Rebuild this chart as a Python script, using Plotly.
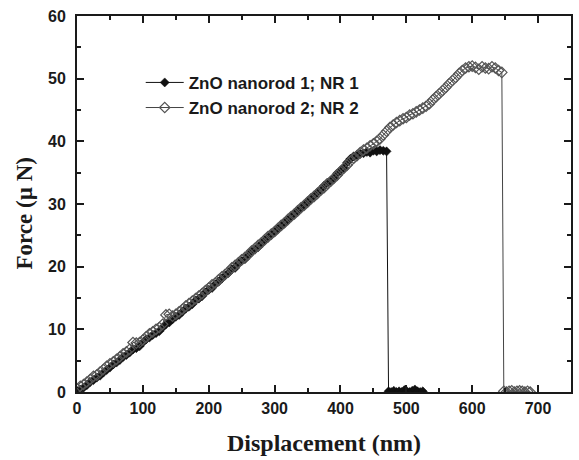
import plotly.graph_objects as go

# ---------------- data ----------------
nr1_disp = [0, 5, 10, 15, 20, 25, 30, 35, 40, 45, 50, 55, 60, 65, 70, 75, 80, 85, 90, 95,
            100, 105, 110, 115, 120, 125, 130, 135, 140, 145, 150, 155, 160, 165, 170, 175,
            180, 185, 190, 195, 200, 205, 210, 215, 220, 225, 230, 235, 240, 245, 250, 255,
            260, 265, 270, 275, 280, 285, 290, 295, 300, 305, 310, 315, 320, 325, 330, 335,
            340, 345, 350, 355, 360, 365, 370, 375, 380, 385, 390, 395, 400, 405, 410, 415,
            420, 425, 430, 435, 440, 445, 450, 455, 460, 465, 470,
            473, 477, 481, 485, 489, 493, 497, 501, 505, 509, 513, 517, 521, 525]
nr1_force = [0.2, 0.4, 0.7, 1.1, 1.6, 1.9, 2.3, 2.6, 3.1, 3.5, 3.9, 4.4, 4.7, 5.1, 5.6, 5.9,
             6.3, 6.8, 7.0, 7.3, 7.9, 8.4, 8.7, 9.1, 9.4, 9.7, 10.3, 10.8, 11.1, 11.6, 12.0,
             12.3, 12.8, 13.3, 13.6, 14.0, 14.6, 14.9, 15.3, 15.9, 16.3, 16.6, 17.2, 17.6,
             18.1, 18.6, 19.0, 19.6, 19.8, 20.5, 20.9, 21.2, 21.8, 22.4, 22.7, 23.1, 23.7,
             24.2, 24.6, 25.1, 25.5, 26.1, 26.4, 27.0, 27.5, 27.9, 28.5, 28.9, 29.3, 29.9,
             30.3, 30.9, 31.4, 31.8, 32.3, 32.9, 33.4, 33.7, 34.2, 34.9, 35.3, 35.8, 36.6,
             37.2, 37.6, 37.8, 38.0, 38.1, 38.3, 38.2, 38.5, 38.4, 38.6, 38.5, 38.4,
             0.1, 0.0, 0.2, 0.0, 0.1, 0.0, 0.3, 0.1, 0.0, 0.2, 0.4, 0.1, 0.0, 0.1]

nr2_disp = [0, 5, 10, 15, 20, 25, 30, 35, 40, 45, 50, 55, 60, 65, 70, 75, 80, 85, 90, 95,
            100, 105, 110, 115, 120, 125, 130, 135, 140, 145, 150, 155, 160, 165, 170, 175,
            180, 185, 190, 195, 200, 205, 210, 215, 220, 225, 230, 235, 240, 245, 250, 255,
            260, 265, 270, 275, 280, 285, 290, 295, 300, 305, 310, 315, 320, 325, 330, 335,
            340, 345, 350, 355, 360, 365, 370, 375, 380, 385, 390, 395, 400, 405, 410, 415,
            420, 425, 430, 435, 440, 445, 450, 455, 460, 465, 470, 475, 480, 485, 490, 495,
            500, 505, 510, 515, 520, 525, 530, 535, 540, 545, 550, 555, 560, 565, 570, 575,
            580, 585, 590, 595, 600, 605, 610, 615, 620, 625, 630, 635, 640, 645,
            648, 652, 656, 660, 664, 668, 672, 676, 680, 684, 688]
nr2_force = [0.5, 0.9, 1.2, 1.6, 2.0, 2.5, 2.7, 3.2, 3.6, 4.1, 4.5, 4.8, 5.2, 5.6, 6.1, 6.4,
             6.8, 7.9, 7.8, 7.9, 8.3, 8.8, 9.3, 9.6, 10.0, 10.3, 10.8, 12.3, 12.4, 12.1, 12.4,
             12.8, 13.2, 13.7, 14.1, 14.5, 14.9, 15.3, 15.7, 16.2, 16.6, 17.1, 17.4, 17.9,
             18.4, 18.8, 19.2, 19.8, 20.2, 20.6, 21.1, 21.5, 21.9, 22.5, 22.9, 23.4, 23.8,
             24.3, 24.8, 25.2, 25.6, 26.1, 26.6, 27.0, 27.5, 28.0, 28.4, 28.9, 29.4, 29.8,
             30.3, 30.8, 31.2, 31.7, 32.2, 32.6, 33.2, 33.6, 34.1, 34.6, 35.2, 35.7, 36.2,
             36.8, 37.3, 37.7, 38.2, 38.6, 38.9, 39.3, 39.6, 40.0, 40.4, 41.0, 41.6, 42.2,
             42.6, 43.0, 43.3, 43.6, 43.8, 44.2, 44.4, 44.7, 45.0, 45.3, 45.6, 46.0, 46.6,
             47.1, 47.6, 48.1, 48.6, 49.2, 49.7, 50.2, 50.8, 51.3, 51.7, 51.9, 52.0, 51.8,
             51.5, 51.9, 51.7, 51.6, 51.9, 51.7, 51.3, 51.0,
             0.1, 0.0, 0.1, 0.2, 0.0, 0.1, 0.2, 0.1, 0.0, 0.1, 0.0]

series_names = ["ZnO nanorod 1; NR 1", "ZnO nanorod 2; NR 2"]
x_ticks = [0, 100, 200, 300, 400, 500, 600, 700]
y_ticks = [0, 10, 20, 30, 40, 50, 60]

# ---------------- figure ----------------
fig = go.Figure()
fig.add_trace(go.Scatter(
    x=nr1_disp, y=nr1_force, name=series_names[0], mode="lines+markers",
    line=dict(color="#111111", width=1),
    marker=dict(symbol="diamond", size=7, color="#111111",
                line=dict(color="#111111", width=0.5)),
))
fig.add_trace(go.Scatter(
    x=nr2_disp, y=nr2_force, name=series_names[1], mode="lines+markers",
    line=dict(color="#444444", width=1),
    marker=dict(symbol="diamond-open", size=8, color="#555555",
                line=dict(width=1.2)),
))

tickfont = dict(family="Arial, Liberation Sans, sans-serif", size=16, color="#1a1a1a",
                weight="bold")
axis_common = dict(
    showline=True, linewidth=2, linecolor="#1a1a1a", mirror="allticks",
    ticks="inside", ticklen=7, tickwidth=2, tickcolor="#1a1a1a",
    showgrid=False, zeroline=False, tickfont=tickfont,
)
fig.update_xaxes(range=[0, 750], tickvals=x_ticks,
                 minor=dict(dtick=50, tick0=0, ticks="inside", ticklen=4, tickwidth=2,
                            tickcolor="#1a1a1a", showgrid=False),
                 ticklabelstandoff=1, **axis_common)
fig.update_yaxes(range=[0, 60], tickvals=y_ticks,
                 minor=dict(dtick=5, tick0=0, ticks="inside", ticklen=4, tickwidth=2,
                            tickcolor="#1a1a1a", showgrid=False),
                 ticklabelstandoff=6, **axis_common)

titlefont = dict(family="Times New Roman, Liberation Serif, serif", size=24, color="#1a1a1a")
fig.add_annotation(text="<b>Displacement (nm)</b>", xref="paper", yref="paper",
                   x=0.5, y=-0.135, xanchor="center", yanchor="middle",
                   showarrow=False, font=titlefont)
fig.add_annotation(text="<b>Force (µ N)</b>", xref="paper", yref="paper",
                   x=-0.107, y=0.475, xanchor="center", yanchor="middle",
                   textangle=-90, showarrow=False, font=dict(titlefont, size=23))

fig.update_layout(
    width=579, height=460,
    margin=dict(l=77, r=6, t=16, b=68),
    paper_bgcolor="white", plot_bgcolor="white",
    showlegend=True,
    legend=dict(x=0.129, y=0.87, xanchor="left", yanchor="top",
                bgcolor="rgba(0,0,0,0)", borderwidth=0,
                font=dict(family="Arial, Liberation Sans, sans-serif", size=17,
                          color="#1a1a1a", weight="bold"),
                itemwidth=38, tracegroupgap=0),
)

fig.write_html("out.html", config={"displayModeBar": False},
               post_script="document.body.style.margin='0px';")
